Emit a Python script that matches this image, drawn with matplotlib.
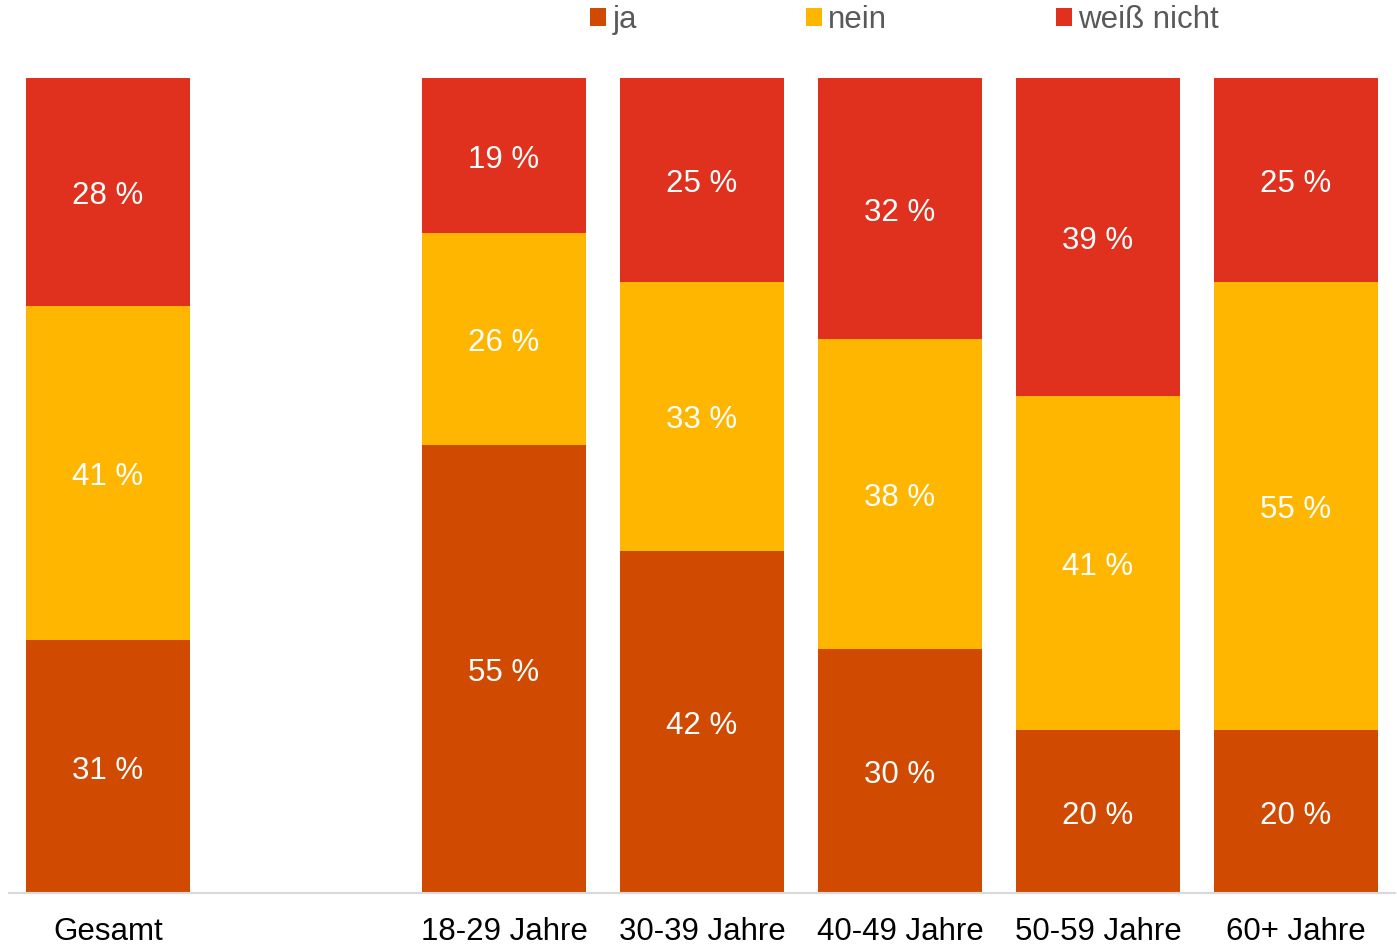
import matplotlib.pyplot as plt
import numpy as np

plt.rcParams['font.family'] = ['Liberation Sans', 'DejaVu Sans']

# categories (the empty one is the gap after "Gesamt")
categories = ['Gesamt', '', '18-29 Jahre', '30-39 Jahre', '40-49 Jahre', '50-59 Jahre', '60+ Jahre']
ja = [31, np.nan, 55, 42, 30, 20, 20]
nein = [41, np.nan, 26, 33, 38, 41, 55]
weiss_nicht = [28, np.nan, 19, 25, 32, 39, 25]

series = [('ja', ja, '#D04A02'), ('nein', nein, '#FFB600'), ('weiß nicht', weiss_nicht, '#E0301E')]
fs = 22.5

fig = plt.figure(figsize=(13.97, 9.48), dpi=100)
ax = fig.add_axes([9/1397, 55/948, 1386/1397, 815/948])

x = np.arange(len(categories))
bottom = np.zeros(len(categories))
handles = []
for name, vals, col in series:
	vals = np.nan_to_num(np.array(vals, dtype=float))
	bars = ax.bar(x, vals, 0.833, bottom=bottom, color=col, label=name)
	for xi, v, b in zip(x, vals, bottom):
		if v > 0:
			ax.annotate('%d %%' % v, (xi, b + v / 2), xytext=(0, -3), textcoords='offset points',
				ha='center', va='center', color='white', fontsize=fs)
	bottom = bottom + vals
	handles.append(bars)

ax.set_xlim(-0.5, len(categories) - 0.5)
ax.set_ylim(0, 100)
ax.set_xticks(x)
ax.set_xticklabels(categories, fontsize=fs, color='black')
ax.tick_params(axis='x', length=0, pad=17.5)
ax.set_yticks([])
for s in ['top', 'left', 'right']:
	ax.spines[s].set_visible(False)
ax.spines['bottom'].set_color('#D9D9D9')
ax.spines['bottom'].set_linewidth(1.5)

leg = fig.legend(handles=handles, loc='center left', bbox_to_anchor=(590/1397, 1 - 20/948),
	ncol=3, frameon=False, fontsize=fs, handlelength=0.52, handleheight=0.52,
	handletextpad=0.2, columnspacing=5.4, borderpad=0, borderaxespad=0)
for t in leg.get_texts():
	t.set_color('#595959')

plt.savefig('out.png', dpi=100)
